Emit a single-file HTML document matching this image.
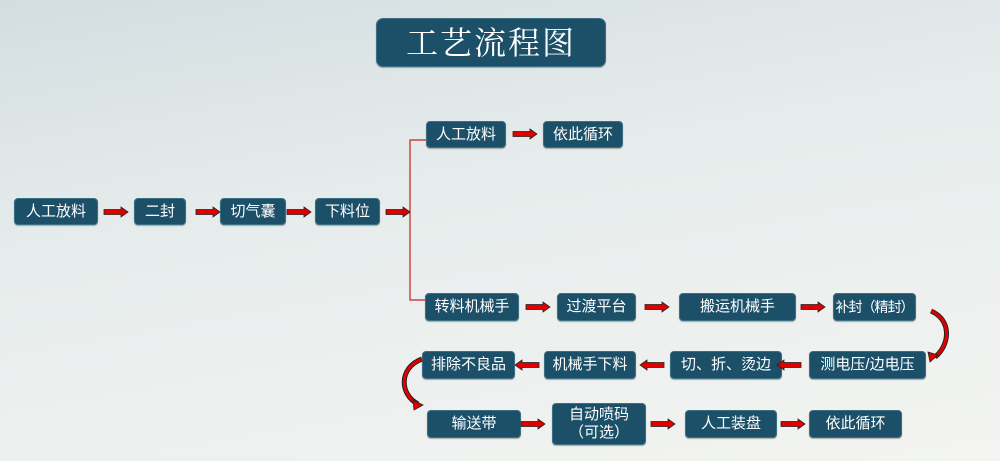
<!DOCTYPE html>
<html><head><meta charset="utf-8"><style>
body{margin:0}
#c{position:relative;width:1000px;height:461px;overflow:hidden;background:linear-gradient(170deg,#d3dde0 0%,#e6ecec 40%,#f3f4f1 100%);font-family:"Liberation Sans","Noto Sans CJK SC",sans-serif}
.b{position:absolute;box-sizing:border-box;background:#1c5069;border:1px solid #3d6f84;border-radius:4px;color:#fff;font-size:15px;display:flex;align-items:center;justify-content:center;text-align:center;line-height:18px;box-shadow:0 1px 1px rgba(0,0,0,.3);white-space:nowrap}
.t{font-family:"Liberation Serif","Noto Serif CJK SC",serif;font-size:32px;letter-spacing:2px;border-radius:7px}
svg{position:absolute;left:0;top:0}
</style></head><body><div id="c">
<div class="b t" style="left:376px;top:18px;width:230px;height:49px">工艺流程图</div>
<div class="b" style="left:14px;top:198px;width:84px;height:27px">人工放料</div>
<div class="b" style="left:134px;top:198px;width:52px;height:27px">二封</div>
<div class="b" style="left:220px;top:198px;width:66px;height:27px">切气囊</div>
<div class="b" style="left:315px;top:198px;width:65px;height:27px">下料位</div>
<div class="b" style="left:426px;top:121px;width:80px;height:27px">人工放料</div>
<div class="b" style="left:543px;top:121px;width:80px;height:27px">依此循环</div>
<div class="b" style="left:425px;top:293px;width:94px;height:28px">转料机械手</div>
<div class="b" style="left:557px;top:293px;width:79px;height:28px">过渡平台</div>
<div class="b" style="left:679px;top:293px;width:117px;height:28px">搬运机械手</div>
<div class="b" style="left:833px;top:293px;width:83px;height:28px;letter-spacing:-1px;font-size:14px">补封（精封）</div>
<div class="b" style="left:422px;top:351px;width:93px;height:28px">排除不良品</div>
<div class="b" style="left:544px;top:351px;width:92px;height:28px">机械手下料</div>
<div class="b" style="left:670px;top:351px;width:112px;height:28px">切、折、烫边</div>
<div class="b" style="left:809px;top:351px;width:117px;height:28px">测电压/边电压</div>
<div class="b" style="left:427px;top:410px;width:94px;height:28px">输送带</div>
<div class="b" style="left:552px;top:403px;width:94px;height:42px">自动喷码<br>（可选）</div>
<div class="b" style="left:685px;top:410px;width:92px;height:28px">人工装盘</div>
<div class="b" style="left:809px;top:410px;width:93px;height:28px">依此循环</div>
<svg width="1000" height="461">
<defs>
<g id="ar"><path d="M0,-2.5 H17 V-5 L24,0 L17,5 V2.5 H0 Z" fill="#e00000" stroke="#222" stroke-width="0.8"/></g>
</defs>
<path d="M426,140 H410 V300 H425" fill="none" stroke="#c62020" stroke-width="1.2"/>
<use href="#ar" x="104" y="212"/>
<use href="#ar" x="196" y="212"/>
<use href="#ar" x="287" y="212"/>
<use href="#ar" x="386" y="212"/>
<use href="#ar" x="513" y="134"/>
<use href="#ar" x="526" y="307"/>
<use href="#ar" x="645" y="307"/>
<use href="#ar" x="801" y="307"/>
<use href="#ar" x="521" y="424"/>
<use href="#ar" x="651" y="424"/>
<use href="#ar" x="781" y="424"/>
<use href="#ar" transform="translate(801,365) scale(-1,1)"/>
<use href="#ar" transform="translate(664,365) scale(-1,1)"/>
<use href="#ar" transform="translate(539,365) scale(-1,1)"/>
<path d="M931,311 C952,320 950,345 935,357" fill="none" stroke="#222" stroke-width="5"/>
<path d="M931,311 C952,320 950,345 935,357" fill="none" stroke="#e00000" stroke-width="3"/>
<path d="M928,352 L938,355 L930,362 Z" fill="#e00000" stroke="#222" stroke-width="0.8"/>
<path d="M422,359 C398,368 400,395 418,404" fill="none" stroke="#222" stroke-width="5"/>
<path d="M422,359 C398,368 400,395 418,404" fill="none" stroke="#e00000" stroke-width="3"/>
<path d="M413,400 L423,405 L414,410 Z" fill="#e00000" stroke="#222" stroke-width="0.8"/>
</svg>
</div></body></html>
